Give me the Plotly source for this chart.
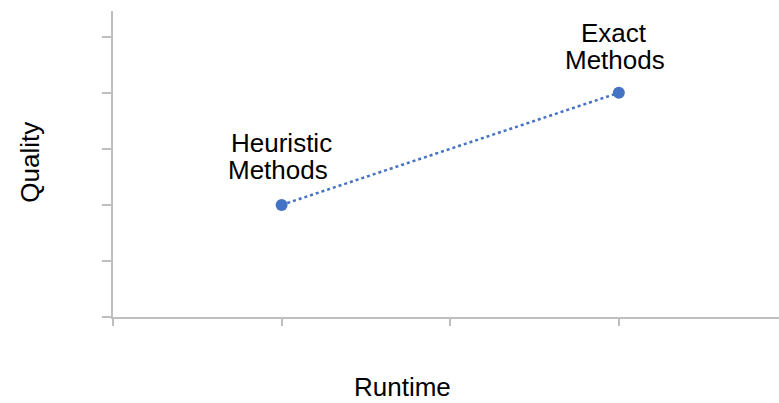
import plotly.graph_objects as go

methods = ["Heuristic Methods", "Exact Methods"]
runtime = [1, 3]
quality = [2, 4]
x_ticks = [0, 1, 2, 3]
y_ticks = [0, 1, 2, 3, 4, 5]

blue = "#4472C4"
axis_gray = "#BFBFBF"
font = dict(family="Liberation Sans, Arial, sans-serif", size=26, color="#000000")

fig = go.Figure()
fig.add_trace(go.Scatter(
    x=runtime, y=quality, mode="lines+markers",
    line=dict(color=blue, width=2.5, dash="dot"),
    marker=dict(color=blue, size=12),
    hoverinfo="text", text=methods, showlegend=False,
))

# labels (one line per annotation for accurate spacing)
labels = [
    ("Heuristic", 1.0, 3.11), ("Methods", 0.98, 2.63),
    ("Exact", 2.97, 5.07), ("Methods", 2.98, 4.59),
]
for t, x, y in labels:
    fig.add_annotation(x=x, y=y, xref="x", yref="y", text=t, showarrow=False,
                       font=font, xanchor="center", yanchor="middle")

fig.add_annotation(x=0.435, y=-0.229, xref="paper", yref="paper", text="Runtime",
                   showarrow=False, font=font, xanchor="center", yanchor="middle")
fig.add_annotation(x=-0.125, y=0.5065, xref="paper", yref="paper", text="Quality",
                   showarrow=False, font=font, xanchor="center", yanchor="middle",
                   textangle=-90)

fig.update_xaxes(range=[0, 3.95], tickvals=x_ticks, showticklabels=False,
                 ticks="outside", ticklen=7, tickcolor=axis_gray, tickwidth=1.5,
                 showline=True, linecolor=axis_gray, linewidth=1.5,
                 showgrid=False, zeroline=False, fixedrange=True)
fig.update_yaxes(range=[0, 5.46], tickvals=y_ticks, showticklabels=False,
                 ticks="outside", ticklen=9, tickcolor=axis_gray, tickwidth=1.5,
                 showline=True, linecolor=axis_gray, linewidth=1.5,
                 showgrid=False, zeroline=False, fixedrange=True)

fig.update_layout(
    width=779, height=403,
    margin=dict(l=113, r=0, t=11, b=86, autoexpand=False),
    paper_bgcolor="white", plot_bgcolor="white",
    font=font,
)

fig.write_html("out.html", config={"displayModeBar": False},
               post_script="document.body.style.margin='0';document.body.style.overflow='hidden';")
